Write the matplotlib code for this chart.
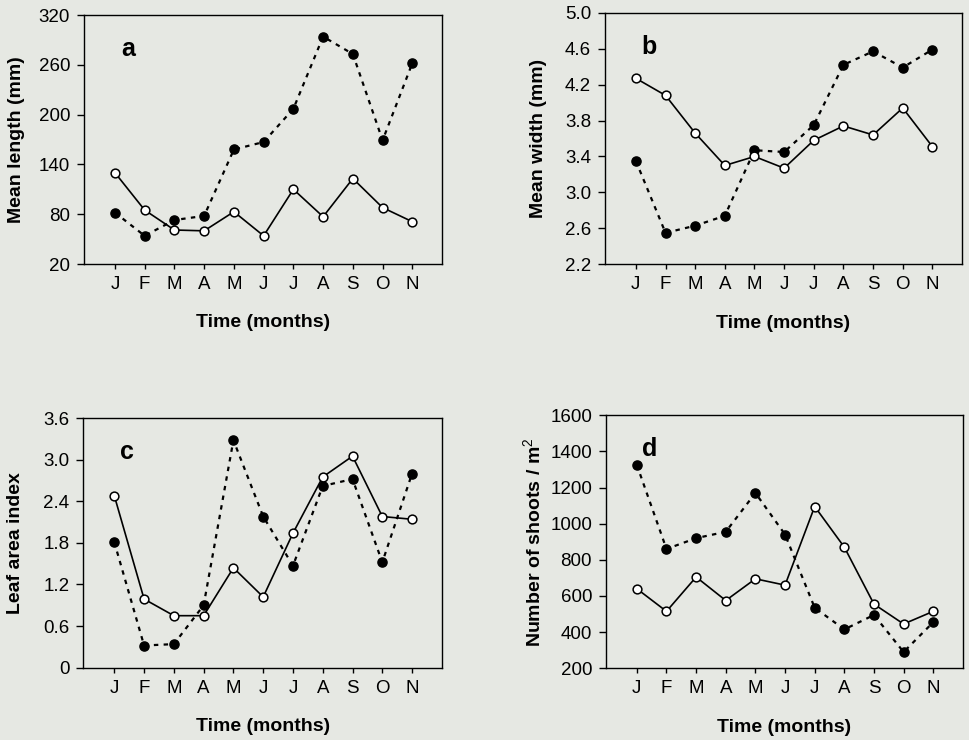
import numpy as np
import matplotlib
matplotlib.use("Agg")
import matplotlib.pyplot as plt

plt.rcParams['font.family'] = ['Liberation Sans', 'DejaVu Sans']
plt.rcParams['mathtext.fontset'] = 'custom'
plt.rcParams['mathtext.rm'] = 'Liberation Sans'
plt.rcParams['mathtext.bf'] = 'Liberation Sans:bold'

# Daten
months = ['J', 'F', 'M', 'A', 'M', 'J', 'J', 'A', 'S', 'O', 'N']

length_open = [130, 85, 61, 60, 83, 54, 110, 77, 123, 88, 71]
length_filled = [82, 54, 73, 78, 158, 167, 207, 294, 273, 169, 262]

width_open = [4.27, 4.08, 3.66, 3.30, 3.40, 3.27, 3.58, 3.74, 3.64, 3.94, 3.51]
width_filled = [3.35, 2.55, 2.63, 2.74, 3.47, 3.45, 3.75, 4.42, 4.57, 4.39, 4.59]

lai_open = [2.48, 0.99, 0.75, 0.75, 1.44, 1.02, 1.94, 2.75, 3.05, 2.18, 2.14]
lai_filled = [1.81, 0.32, 0.34, 0.90, 3.28, 2.18, 1.47, 2.62, 2.72, 1.52, 2.80]

shoots_open = [640, 515, 705, 575, 695, 660, 1095, 870, 555, 445, 515]
shoots_filled = [1325, 860, 920, 955, 1170, 940, 535, 415, 495, 290, 455]

length_ticks = [20, 80, 140, 200, 260, 320]
length_labels = ['20', '80', '140', '200', '260', '320']
width_ticks = [2.2, 2.6, 3.0, 3.4, 3.8, 4.2, 4.6, 5.0]
width_labels = ['2.2', '2.6', '3.0', '3.4', '3.8', '4.2', '4.6', '5.0']
lai_ticks = [0, 0.6, 1.2, 1.8, 2.4, 3.0, 3.6]
lai_labels = ['0', '0.6', '1.2', '1.8', '2.4', '3.0', '3.6']
shoots_ticks = [200, 400, 600, 800, 1000, 1200, 1400, 1600]
shoots_labels = ['200', '400', '600', '800', '1000', '1200', '1400', '1600']

bg = '#e6e8e3'
fig = plt.figure(figsize=(9.69, 7.40), dpi=100, facecolor=bg)

panels = [
    # (rect, letter, ylabel, open, filled, ticks, labels, ylabel-x)
    ([0.0867, 0.6432, 0.3695, 0.3365], 'a', 'Mean length (mm)',
     length_open, length_filled, length_ticks, length_labels, -0.165),
    ([0.6244, 0.6428, 0.3684, 0.3400], 'b', 'Mean width (mm)',
     width_open, width_filled, width_ticks, width_labels, -0.163),
    ([0.0860, 0.0977, 0.3700, 0.3374], 'c', 'Leaf area index',
     lai_open, lai_filled, lai_ticks, lai_labels, -0.165),
    ([0.6254, 0.0969, 0.3683, 0.3420], 'd', 'Number of shoots / m$^2$',
     shoots_open, shoots_filled, shoots_ticks, shoots_labels, -0.171),
]

x = np.arange(len(months))

for rect, letter, ylabel, y_open, y_filled, ticks, labels, ylx in panels:
    ax = fig.add_axes(rect)
    ax.set_facecolor(bg)

    ax.plot(x, y_filled, color='black', lw=1.6, linestyle=(0, (2.0, 2.4)),
            marker='o', markersize=6.6, markerfacecolor='black',
            markeredgecolor='black', zorder=2)
    ax.plot(x, y_open, color='black', lw=1.2, linestyle='-',
            marker='o', markersize=6.3, markerfacecolor='white',
            markeredgecolor='black', markeredgewidth=1.1, zorder=3)

    ax.set_xlim(-1.04, 11.0)
    ax.set_ylim(ticks[0], ticks[-1])
    ax.set_xticks(x)
    ax.set_xticklabels(months, fontsize=13.5)
    ax.set_yticks(ticks)
    ax.set_yticklabels(labels, fontsize=13.5)
    ax.tick_params(axis='x', direction='out', length=3.6, width=1.0, pad=5)
    ax.tick_params(axis='y', direction='out', length=5, width=1.0, pad=5)

    for sp in ax.spines.values():
        sp.set_linewidth(1.0)

    ax.set_xlabel('Time (months)', fontsize=14, fontweight='bold')
    ax.xaxis.set_label_coords(0.5, -0.2)
    ax.set_ylabel(ylabel, fontsize=14, fontweight='bold')
    ax.yaxis.set_label_coords(ylx, 0.5)

    ax.text(0.122, 0.865, letter, transform=ax.transAxes, fontsize=18,
            fontweight='bold', ha='center', va='center')

fig.savefig('out.png', dpi=100, facecolor=bg)
